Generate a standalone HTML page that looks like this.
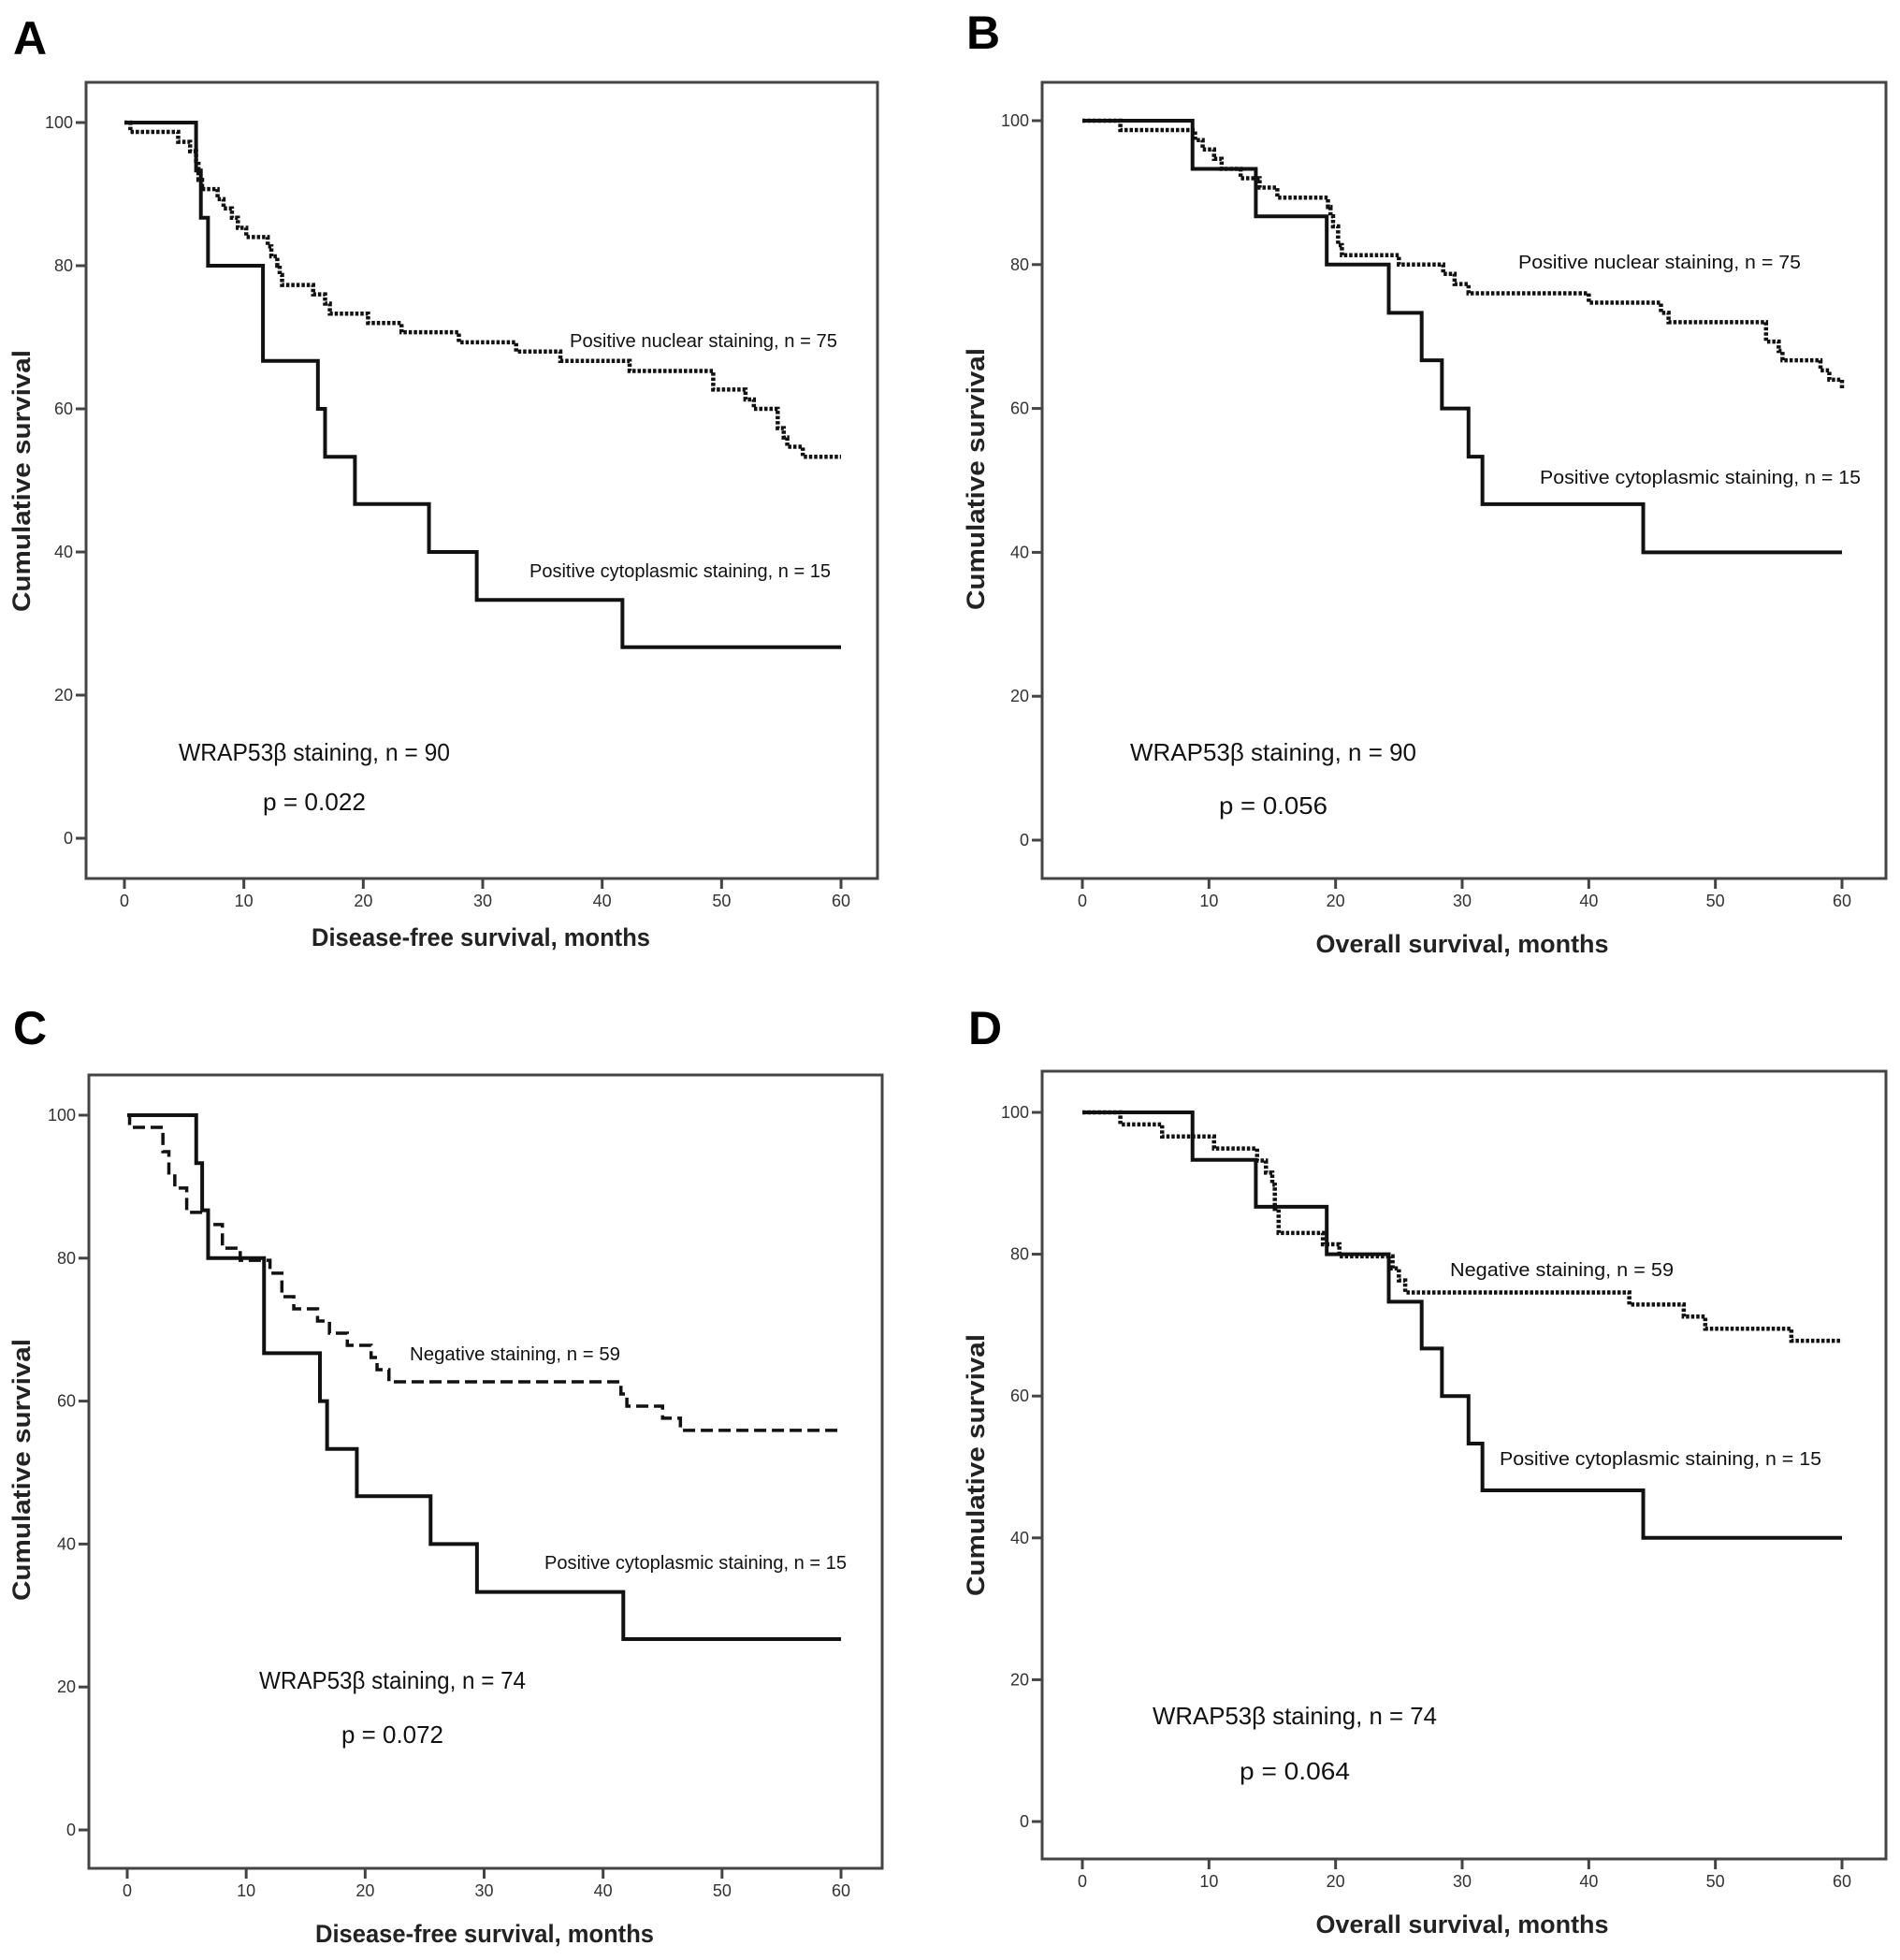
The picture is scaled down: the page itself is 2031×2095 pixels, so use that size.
<!DOCTYPE html>
<html><head><meta charset="utf-8"><style>
html,body{margin:0;padding:0;background:#fff;}
svg{display:block;font-family:"Liberation Sans",sans-serif;}
</style></head><body>
<svg id="fig" width="2031" height="2095" viewBox="0 0 2031 2095" xmlns="http://www.w3.org/2000/svg"></svg>
<script>
// ---- Data (months, cumulative survival %) ----
const xTicks = [0,10,20,30,40,50,60];
const yTicks = [0,20,40,60,80,100];

const aCytoT = [0,6,6.4,7,11.6,16.2,16.8,19.3,25.5,29.5,41.7,60];
const aCytoS = [100,93.3,86.7,80,66.7,60,53.3,46.7,40,33.3,26.7,26.7];
const aNucT = [0,0.5,4.5,5.5,6,6.2,6.5,7.8,8.3,9,9.5,10.2,12,12.3,12.8,13,13.2,15.8,16.8,17.2,20.4,23.2,28,32.8,36.5,42.3,49.3,52,52.7,54.7,55.2,55.5,56.8,60];
const aNucS = [100,98.7,97.3,96,94.7,92,90.7,89.3,88,86.7,85.3,84,82.7,81.3,80,78.7,77.3,76,74.7,73.3,72,70.7,69.3,68,66.7,65.3,62.7,61.3,60,57.3,56,54.7,53.3,53.3];

const bCytoT = [0,8.7,13.7,19.3,24.2,26.8,28.4,30.5,31.6,44.3,60];
const bCytoS = [100,93.3,86.7,80,73.3,66.7,60,53.3,46.7,40,40];
const bNucT = [0,3,8.9,9.5,10.4,11,12.5,14,15.4,19.4,19.6,19.8,20.2,20.5,25,28.5,29.4,30.5,40,45.7,46.3,54,55,55.3,58.3,59,60];
const bNucS = [100,98.7,97.3,96,94.7,93.3,92,90.7,89.3,88,86.7,85.3,82.7,81.3,80,78.7,77.3,76,74.7,73.3,72,69.3,68,66.7,65.3,64,62.7];

const cCytoT = [0,5.8,6.3,6.8,11.5,16.2,16.8,19.3,25.5,29.4,41.7,60];
const cCytoS = [100,93.3,86.7,80,66.7,60,53.3,46.7,40,33.3,26.7,26.7];
const cNegT = [0,0.2,3,3.5,4,5,6.8,8,9.5,12,13,14,16,17,18.5,20.5,21,22,41.5,42,45,46.5,60];
const cNegS = [100,98.3,94.9,91.5,89.8,86.4,84.7,81.4,79.7,77.9,74.6,72.9,71.2,69.5,67.8,66.1,64.4,62.7,61,59.3,57.6,55.9,55.9];

const dCytoT = [0,8.7,13.7,19.3,24.2,26.8,28.4,30.5,31.6,44.3,60];
const dCytoS = [100,93.3,86.7,80,73.3,66.7,60,53.3,46.7,40,40];
const dNegT = [0,3,6.3,10.4,13.8,14.5,15,15.2,15.5,19,20.3,24.5,25,25.5,43.2,47.5,49.2,56,60];
const dNegS = [100,98.3,96.6,94.9,93.2,91.5,89.8,86.4,83,81.4,79.7,78,76.3,74.6,72.9,71.2,69.5,67.8,67.8];

const NS="http://www.w3.org/2000/svg";
const svg=document.getElementById('fig');
function el(tag,attrs,parent,txt){const e=document.createElementNS(NS,tag);for(const k in attrs)e.setAttribute(k,attrs[k]);if(txt!==undefined)e.textContent=txt;(parent||svg).appendChild(e);return e;}

function panel(p){
  const g=el('g',{});
  
  
  const sx=v=>p.x0+(v/60)*(p.x60-p.x0);
  const sy=v=>p.y0+(v/100)*(p.y100-p.y0);
  const letter=el('text',{x:p.lx,y:p.ly,'font-size':50,'font-weight':'bold',fill:'#000'},g,p.id);
  
  
  const box=el('rect',{x:p.bl,y:p.bt,width:p.br-p.bl,height:p.bb-p.bt,fill:'none',stroke:'#444','stroke-width':3},g);
  
  
  for(const t of yTicks){
    el('line',{x1:p.bl-11,x2:p.bl,y1:sy(t),y2:sy(t),stroke:'#444','stroke-width':3},g);
    const tl=el('text',{x:p.bl-14,y:sy(t)+6,'font-size':18,'text-anchor':'end',fill:'#333'},g,String(t));
    
    
  }
  for(const t of xTicks){
    el('line',{x1:sx(t),x2:sx(t),y1:p.bb,y2:p.bb+11,stroke:'#444','stroke-width':3},g);
    const tl=el('text',{x:sx(t),y:p.bb+30,'font-size':18,'text-anchor':'middle',fill:'#333'},g,String(t));
    
    
  }
  const yt=el('text',{x:0,y:0,'font-size':27,'font-weight':'bold','text-anchor':'middle',fill:'#222',textLength:280,lengthAdjust:'spacingAndGlyphs',transform:`translate(${p.ytx},${p.yty}) rotate(-90)`},g,'Cumulative survival');
  
  
  const xt=el('text',{x:p.xtx,y:p.xty,'font-size':27,'font-weight':'bold','text-anchor':'middle',fill:'#222',textLength:p.xtw,lengthAdjust:'spacingAndGlyphs'},g,p.xtitle);
  
  
  for(const s of p.series){
    let d=`M${sx(s.t[0])},${sy(s.s[0])}`;
    for(let i=1;i<s.t.length;i++){d+=` H${sx(s.t[i])} V${sy(s.s[i])}`;}
    const path=el('path',{d:d,fill:'none',stroke:'#111','stroke-width':s.w,'stroke-dasharray':s.dash||'none'},g);
    
    
  }
  for(const L of p.labels){
    const t=el('text',{x:L.x,y:L.y,'font-size':L.fs,fill:'#111',textLength:L.w,lengthAdjust:'spacingAndGlyphs'},g,L.text);
    
    
  }
}

panel({id:'A',lx:14,ly:58,bl:92,br:938,bt:88,bb:939,x0:133,x60:899,y0:896,y100:131,
  ytx:32,yty:514,xtx:514,xty:1011,xtw:362,xtitle:'Disease-free survival, months',
  series:[{t:aNucT,s:aNucS,w:4.5,dash:'3.5 2',name:'nuclear-curve'},{t:aCytoT,s:aCytoS,w:4,name:'cytoplasmic-curve'}],
  labels:[{text:'Positive nuclear staining, n = 75',x:609,y:371,fs:20,w:286,name:'nuclear-label'},
          {text:'Positive cytoplasmic staining, n = 15',x:566,y:617,fs:20,w:322,name:'cytoplasmic-label'},
          {text:'WRAP53β staining, n = 90',x:191,y:813,fs:26,w:290,name:'cohort-annotation'},
          {text:'p = 0.022',x:281,y:866,fs:26,w:110,name:'p-value'}]});

panel({id:'B',lx:1033,ly:52,bl:1114,br:2016,bt:88,bb:939,x0:1157,x60:1969,y0:898,y100:129,
  ytx:1052,yty:512,xtx:1563,xty:1018,xtw:313,xtitle:'Overall survival, months',
  series:[{t:bNucT,s:bNucS,w:4.5,dash:'3.5 2',name:'nuclear-curve'},{t:bCytoT,s:bCytoS,w:4,name:'cytoplasmic-curve'}],
  labels:[{text:'Positive nuclear staining, n = 75',x:1623,y:287,fs:20,w:302,name:'nuclear-label'},
          {text:'Positive cytoplasmic staining, n = 15',x:1646,y:517,fs:20,w:343,name:'cytoplasmic-label'},
          {text:'WRAP53β staining, n = 90',x:1208,y:813,fs:26,w:306,name:'cohort-annotation'},
          {text:'p = 0.056',x:1303,y:870,fs:26,w:116,name:'p-value'}]});

panel({id:'C',lx:14,ly:1116,bl:95,br:943,bt:1149,bb:1997,x0:136,x60:899,y0:1956,y100:1192,
  ytx:32,yty:1571,xtx:518,xty:2076,xtw:362,xtitle:'Disease-free survival, months',
  series:[{t:cNegT,s:cNegS,w:3.5,dash:'13 6',name:'negative-curve'},{t:cCytoT,s:cCytoS,w:4,name:'cytoplasmic-curve'}],
  labels:[{text:'Negative staining, n = 59',x:438,y:1454,fs:20,w:225,name:'negative-label'},
          {text:'Positive cytoplasmic staining, n = 15',x:582,y:1677,fs:20,w:323,name:'cytoplasmic-label'},
          {text:'WRAP53β staining, n = 74',x:277,y:1805,fs:26,w:285,name:'cohort-annotation'},
          {text:'p = 0.072',x:365,y:1863,fs:26,w:109,name:'p-value'}]});

panel({id:'D',lx:1035,ly:1116,bl:1114,br:2016,bt:1145,bb:1987,x0:1157,x60:1969,y0:1947,y100:1189,
  ytx:1052,yty:1566,xtx:1563,xty:2066,xtw:313,xtitle:'Overall survival, months',
  series:[{t:dNegT,s:dNegS,w:4.5,dash:'3.5 2',name:'negative-curve'},{t:dCytoT,s:dCytoS,w:4,name:'cytoplasmic-curve'}],
  labels:[{text:'Negative staining, n = 59',x:1550,y:1364,fs:20,w:239,name:'negative-label'},
          {text:'Positive cytoplasmic staining, n = 15',x:1603,y:1566,fs:20,w:344,name:'cytoplasmic-label'},
          {text:'WRAP53β staining, n = 74',x:1232,y:1843,fs:26,w:304,name:'cohort-annotation'},
          {text:'p = 0.064',x:1325,y:1902,fs:26,w:118,name:'p-value'}]});
</script>
</body></html>
